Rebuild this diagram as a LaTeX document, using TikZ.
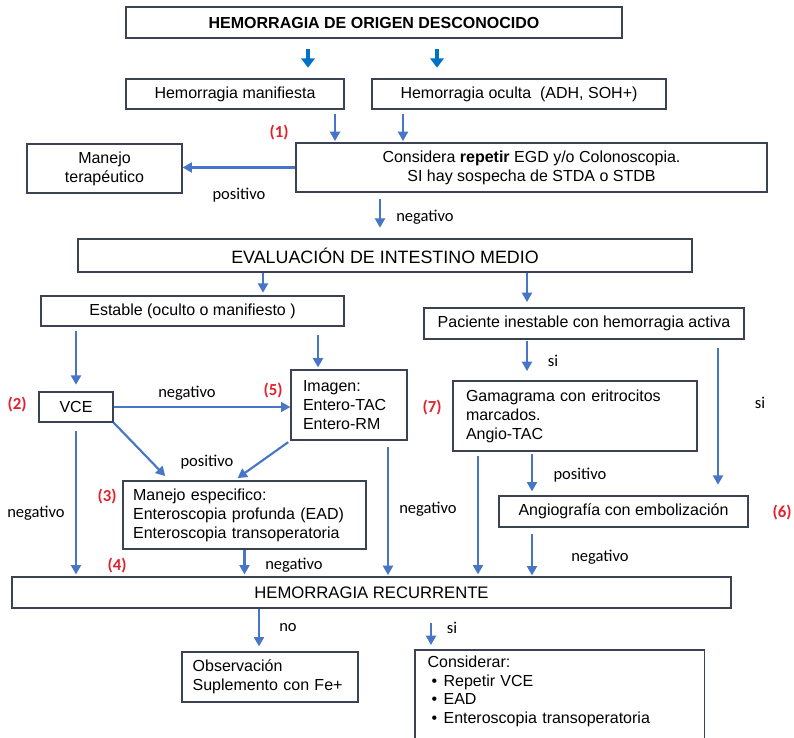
\documentclass[tikz,border=0pt]{standalone}
\usepackage{fontspec}
\setmainfont{Liberation Sans}
\newfontfamily\lblfont{Carlito}
\usepackage{tikz}
\usetikzlibrary{arrows.meta}
\definecolor{boxline}{RGB}{58,66,84}
\definecolor{arrowblue}{RGB}{72,118,198}
\definecolor{topblue}{RGB}{0,114,198}
\definecolor{numred}{RGB}{228,32,44}

\begin{document}
\begin{tikzpicture}[x=0.75pt,y=-0.75pt,
    box/.style={draw=boxline,line width=0.9pt,inner sep=0pt,align=center,font=\fontsize{12}{14.25}\selectfont},
    lbox/.style={box,align=left},
    arr/.style={draw=arrowblue,line width=1.6pt,-{Triangle[length=7pt,width=7.5pt]}},
    toparr/.style={draw=topblue,line width=3pt,-{Triangle[length=7pt,width=10pt]}},
    lbl/.style={font=\lblfont\fontsize{12.4}{14}\selectfont},
    num/.style={font=\lblfont\bfseries\fontsize{12.6}{14}\selectfont,text=numred}]
    \useasboundingbox (0,0) rectangle (794,738);
    \clip (0,0) rectangle (794,738);
    \foreach \n/\x in {k1/308,k2/437,k3/335,k4/403,k5/380,k6/263,k7/527,k8/318,
        k9/388,k10/718,k11/532,k12/478,k13/259,k14/431}
        \coordinate (\n) at (\x,0);

    \node[box,minimum width=372pt,minimum height=23.25pt,font=\bfseries\fontsize{12}{14}\selectfont] (orig) at (374,22.5) {HEMORRAGIA DE ORIGEN DESCONOCIDO};
    \node[box,minimum width=163.5pt,minimum height=22.5pt] (manif) at (235,94) {Hemorragia manifiesta};
    \node[box,minimum width=220.5pt,minimum height=22.5pt] (oculta) at (519,94) {Hemorragia oculta\ \ (ADH, SOH+)};
    \node[box,minimum width=353.25pt,minimum height=36.75pt] (repite) at (531.5,167.5) {Considera \textbf{repetir} EGD y/o Colonoscopia.\\SI hay sospecha de STDA o STDB};
    \node[box,minimum width=116.25pt,minimum height=36.75pt] (terap) at (104.5,168.5) {Manejo\\terapéutico};
    \node[box,minimum width=460.5pt,minimum height=24.75pt,font=\fontsize{13.4}{15}\selectfont] (medio) at (385,255.5) {EVALUACIÓN DE INTESTINO MEDIO};
    \node[box,minimum width=227.25pt,minimum height=22.5pt] (estable) at (192.5,311) {Estable (oculto o manifiesto )};
    \node[box,minimum width=240pt,minimum height=23.25pt] (inest) at (584,323.5) {Paciente inestable con hemorragia activa};
    \node[box,minimum width=55.5pt,minimum height=22.5pt] (vce) at (76,407) {VCE};
    \node[lbox,minimum width=87pt,minimum height=52.5pt,text width=69pt] (imagen) at (349,405) {Imagen:\\Entero-TAC\\Entero-RM};
    \node[lbox,minimum width=183pt,minimum height=52.5pt,text width=163.5pt] (gama) at (575,416) {Gamagrama con eritrocitos\\marcados.\\Angio-TAC};
    \node[lbox,minimum width=182.25pt,minimum height=51pt,text width=167pt] (especif) at (244.5,515) {Manejo especifico:\\Enteroscopia profunda (EAD)\\Enteroscopia transoperatoria};
    \node[box,minimum width=186.75pt,minimum height=23.25pt] (angio) at (623.5,511.5) {Angiografía con embolización};
    \node[box,minimum width=539.25pt,minimum height=23.25pt,font=\fontsize{12.5}{14}\selectfont] (recur) at (371.5,592.5) {HEMORRAGIA RECURRENTE};
    \node[lbox,minimum width=132pt,minimum height=37.5pt,text width=116pt] (observ) at (270,677) {Observación\\Suplemento con Fe+};
    \node[lbox,draw=none,anchor=north west,inner xsep=9pt,inner ysep=4pt,text width=198pt,font=\fontsize{12}{14}\selectfont] (consid) at (415,650)
        {Considerar:\\\hspace*{3pt}\makebox[9pt][l]{\textbullet}Repetir VCE\\\hspace*{3pt}\makebox[9pt][l]{\textbullet}EAD\\\hspace*{3pt}\makebox[9pt][l]{\textbullet}Enteroscopia transoperatoria};
    \draw[boxline,line width=0.9pt] ([yshift=-14pt]consid.south west) |- (consid.north east) -- ([yshift=-14pt]consid.south east);

    \draw[toparr,shorten <=7.5pt,shorten >=8pt] (k1 |- orig.south) -- (k1 |- manif.north);
    \draw[toparr,shorten <=7.5pt,shorten >=8pt] (k2 |- orig.south) -- (k2 |- oculta.north);
    \draw[arr,shorten <=3pt,shorten >=1pt] (k3 |- manif.south) -- (k3 |- repite.north);
    \draw[arr,shorten <=3pt,shorten >=1pt] (k4 |- oculta.south) -- (k4 |- repite.north);
    \draw[arr] (repite.west) -- (repite.west -| terap.east);
    \draw[arr,shorten <=4.5pt,shorten >=8pt] (k5 |- repite.south) -- (k5 |- medio.north);
    \draw[arr,shorten >=2pt] (k6 |- medio.south) -- (k6 |- estable.north);
    \draw[arr,shorten >=4pt] (k7 |- medio.south) -- (k7 |- inest.north);
    \draw[arr,shorten <=3pt,shorten >=5pt] (vce.north |- estable.south) -- (vce.north);
    \draw[arr,shorten <=6pt,shorten >=1.5pt] (k8 |- estable.south) -- (k8 |- imagen.north);
    \draw[arr,line width=1pt] (vce.east) -- (vce.east -| imagen.west);
    \draw[arr,shorten >=4.5pt] (vce.south east) -- ([xshift=35.25pt]especif.north west);
    \draw[arr,shorten <=2pt,shorten >=3pt] (imagen.south west) -- ([xshift=84pt]especif.north west);
    \draw[arr,shorten <=6pt,shorten >=1.5pt] (vce.south) -- (vce.south |- recur.north);
    \draw[arr,shorten >=1.5pt] (especif.south) -- (especif.south |- recur.north);
    \draw[arr,shorten <=5pt,shorten >=1pt] (k9 |- imagen.south) -- (k9 |- recur.north);
    \draw[arr,shorten <=0.75pt,shorten >=7pt] (k7 |- inest.south) -- (k7 |- gama.north);
    \draw[arr,shorten <=6pt,shorten >=8pt] (k10 |- inest.south) -- (k10 |- angio.north);
    \draw[arr,shorten <=1.5pt,shorten >=3pt] (k11 |- gama.south) -- (k11 |- angio.north);
    \draw[arr,shorten <=3pt,shorten >=1.5pt] (k12 |- gama.south) -- (k12 |- recur.north);
    \draw[arr,shorten <=4.5pt,shorten >=0.75pt] (k11 |- angio.south) -- (k11 |- recur.north);
    \draw[arr,shorten >=3.75pt] (k13 |- recur.south) -- (k13 |- observ.north);
    \draw[arr,shorten <=10.5pt,shorten >=3.75pt] (k14 |- recur.south) -- (k14 |- consid.north);

    \node[lbl] (pos1) at (239,195) {positivo};
    \node[lbl] (neg1) at (425,217) {negativo};
    \node[lbl] (neg2) at (187,393) {negativo};
    \node[lbl] (pos2) at (207,462) {positivo};
    \node[lbl] (neg3) at (36,513) {negativo};
    \node[lbl] (neg4) at (428,509) {negativo};
    \node[lbl] (neg5) at (294,565) {negativo};
    \node[lbl] (si1) at (553,361) {si};
    \node[lbl] (si2) at (760,403) {si};
    \node[lbl] (pos3) at (580,475) {positivo};
    \node[lbl] (neg6) at (600,557) {negativo};
    \node[lbl] (no1) at (288,628) {no};
    \node[lbl] (si3) at (452,628) {si};

    \node[num] (n1) at (279,133) {(1)};
    \node[num] (n2) at (17,405) {(2)};
    \node[num] (n3) at (107,497) {(3)};
    \node[num] (n4) at (117,566) {(4)};
    \node[num] (n5) at (273,391) {(5)};
    \node[num] (n6) at (782,513) {(6)};
    \node[num] (n7) at (432,408) {(7)};
\end{tikzpicture}
\end{document}
